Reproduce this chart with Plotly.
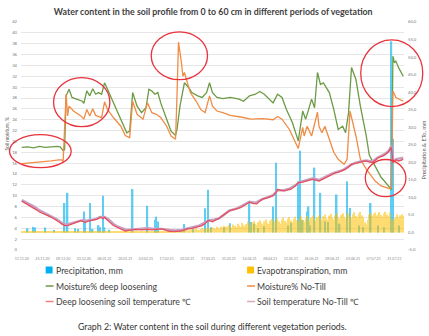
import pandas as pd
import plotly.graph_objects as go

# ---------------- data ----------------
DAY0 = "2020-11-11"          # first day of the observation period (day 0)
LAST_DAY = 258               # last day index (27.07.21)

tick_dates = ["2020-11-11", "2020-11-25", "2020-12-09", "2020-12-23", "2021-01-06",
              "2021-01-20", "2021-02-03", "2021-02-17", "2021-03-03", "2021-03-17",
              "2021-03-31", "2021-04-14", "2021-04-28", "2021-05-12", "2021-05-26",
              "2021-06-09", "2021-06-23", "2021-07-07", "2021-07-21"]

left_ticks = list(range(0, 43, 2))
right_ticks = [-5, 0, 5, 10, 15, 20, 25, 30, 35, 40, 45, 50, 55, 60]
right_tick_text = ["-5,0", "0,0", "5,0", "10,0", "15,0", "20,0", "25,0", "30,0",
                   "35,0", "40,0", "45,0", "50,0", "55,0", "60,0"]

# precipitation, mm (only rainy days)
precip_day = [4, 8, 9, 16, 22, 29, 31, 36, 38, 42, 43, 46, 48, 52, 53, 55, 56, 59, 75, 85,
              90, 91, 92, 110, 116, 124, 126, 128, 137, 141, 154, 155, 157, 160, 164, 170,
              172, 180, 182, 187, 188, 190, 193, 194, 195, 198, 202, 205, 207, 213, 215,
              220, 222, 228, 231, 236, 241, 245, 250, 251, 255]
precip_mm = [1.2, 1.6, 1.4, 1.4, 0.7, 8.4, 11.3, 1.2, 1.0, 6.0, 3.6, 8.4, 1.0, 2.1, 1.5,
             10.5, 1.5, 0.8, 12.4, 7.6, 3.6, 4.5, 3.1, 2.4, 1.0, 6.9, 12.2, 1.5, 1.5, 2.6,
             8.8, 3.0, 2.5, 1.2, 1.8, 7.4, 19.9, 2.0, 2.8, 14.6, 23.3, 3.5, 6.0, 7.4, 2.0,
             18.5, 11.3, 3.2, 3.0, 10.8, 2.5, 14.6, 7.0, 2.0, 1.5, 8.4, 2.0, 1.5, 54.5,
             26.7, 2.0]

# evapotranspiration, mm (daily, 11.11.20 - 27.07.21)
et_nov = [0.4, 0.3, 0.5, 0.3, 0.4, 0.2, 0.4, 0.3, 0.5, 0.3, 0.2, 0.4, 0.3, 0.3, 0.5, 0.2,
          0.3, 0.4, 0.2, 0.3]
et_dec = [0.3, 0.2, 0.4, 0.3, 0.2, 0.3, 0.2, 0.3, 0.4, 0.2, 0.3, 0.2, 0.2, 0.3, 0.4, 0.2,
          0.3, 0.2, 0.3, 0.2, 0.2, 0.3, 0.2, 0.4, 0.3, 0.2, 0.3, 0.2, 0.2, 0.3, 0.2]
et_jan = [0.2, 0.3, 0.2, 0.2, 0.3, 0.2, 0.2, 0.3, 0.2, 0.2, 0.3, 0.2, 0.3, 0.2, 0.2, 0.3,
          0.2, 0.2, 0.3, 0.3, 0.2, 0.2, 0.3, 0.2, 0.3, 0.2, 0.3, 0.2, 0.3, 0.3, 0.2]
et_feb = [0.3, 0.2, 0.3, 0.4, 0.2, 0.3, 0.3, 0.2, 0.4, 0.3, 0.3, 0.4, 0.2, 0.4, 0.3, 0.5,
          0.4, 0.3, 0.5, 0.4, 0.6, 0.4, 0.5, 0.7, 0.5, 0.6, 0.4, 0.7]
et_mar = [0.6, 0.9, 0.7, 0.5, 0.8, 1.0, 0.7, 0.9, 1.2, 0.8, 0.6, 1.0, 1.3, 0.9, 0.8, 1.1,
          1.4, 1.0, 0.9, 1.5, 1.2, 1.0, 1.6, 1.3, 1.1, 1.7, 1.4, 1.9, 1.5, 1.8, 2.1]
et_apr = [1.7, 1.4, 2.3, 1.9, 1.5, 2.5, 2.0, 1.6, 2.7, 2.1, 1.8, 2.4, 3.1, 2.3, 1.9, 2.9,
          3.3, 2.5, 2.1, 3.0, 3.5, 2.7, 2.3, 3.2, 3.7, 2.8, 2.4, 3.4, 3.9, 3.1]
et_may = [3.4, 2.7, 4.0, 3.1, 2.5, 3.7, 4.2, 3.3, 2.8, 3.9, 4.4, 3.4, 2.9, 3.8, 4.5, 3.5,
          3.0, 4.1, 4.6, 3.6, 3.1, 4.0, 4.7, 3.9, 3.2, 4.3, 4.8, 3.8, 3.3, 4.4, 4.9]
et_jun = [4.1, 3.5, 4.6, 5.1, 4.0, 3.7, 4.8, 5.3, 4.3, 3.8, 4.9, 5.4, 4.4, 3.9, 5.0, 5.5,
          4.5, 4.0, 5.1, 5.6, 4.6, 4.1, 5.2, 5.8, 4.7, 4.2, 5.3, 5.9, 4.8, 4.3]
et_jul = [2.9, 2.3, 3.6, 5.1, 5.5, 4.7, 5.3, 5.7, 4.8, 5.2, 5.8, 5.0, 4.5, 5.4, 5.9, 5.1,
          4.6, 5.6, 3.6, 3.4, 4.0, 4.4, 5.1, 4.2, 4.9, 5.2, 4.7]

# soil moisture, % (deep loosening)
deep_day = [0, 4, 8, 12, 16, 20, 24, 26, 28, 29, 30, 32, 34, 37, 41, 42, 44, 46, 48, 50,
            52, 54, 56, 58, 62, 68, 71, 73, 75, 78, 81, 84, 86, 88, 90, 92, 94, 98, 101,
            104, 105, 107, 110, 113, 115, 119, 122, 125, 127, 129, 132, 136, 141, 147, 150,
            154, 158, 161, 164, 170, 173, 176, 179, 183, 187, 190, 192, 194, 196, 198, 200,
            202, 204, 208, 211, 214, 217, 219, 221, 223, 226, 229, 233, 235, 239, 243, 249,
            250, 251, 252, 253, 255, 258]
deep_moist = [18.9, 19.0, 18.8, 19.1, 18.9, 19.0, 19.1, 19.0, 18.3, 18.5, 28.4, 29.6, 28.1,
              27.8, 27.4, 27.0, 29.3, 28.4, 29.7, 28.7, 29.0, 28.7, 30.8, 29.6, 27.1, 23.5,
              21.6, 21.9, 29.0, 26.5, 25.3, 26.2, 29.6, 29.3, 28.7, 29.0, 27.1, 24.1, 21.9,
              21.1, 22.2, 26.5, 30.8, 29.9, 29.0, 28.4, 28.1, 29.0, 30.8, 29.0, 28.1, 27.9,
              28.1, 27.8, 27.4, 28.4, 28.7, 29.2, 28.7, 27.1, 28.7, 28.1, 25.9, 23.5, 20.1,
              25.6, 24.1, 25.9, 27.8, 26.2, 32.7, 30.5, 30.8, 29.0, 25.9, 22.2, 22.8, 21.6,
              25.3, 33.6, 31.4, 26.5, 21.0, 17.5, 15.5, 13.4, 11.5, 11.1, 35.7, 34.5, 34.8,
              33.5, 32.0]

# soil moisture, % (No-Till)
nt_day = [0, 5, 10, 15, 20, 25, 27, 28, 30, 31, 32, 35, 40, 42, 44, 46, 48, 50, 54, 56, 58,
          62, 67, 70, 73, 75, 78, 82, 85, 88, 91, 94, 98, 101, 104, 105, 106, 108, 109, 110,
          112, 114, 118, 121, 124, 127, 129, 132, 136, 141, 148, 155, 163, 170, 173, 176,
          181, 187, 190, 191, 193, 196, 200, 201, 203, 205, 208, 211, 214, 218, 220, 222,
          226, 229, 233, 239, 243, 249, 250, 251, 253, 258]
nt_moist = [15.9, 16.0, 16.2, 16.3, 16.4, 16.6, 16.6, 16.3, 28.7, 24.7, 26.5, 25.6, 24.7,
            24.1, 25.9, 24.7, 26.0, 24.8, 24.4, 27.3, 25.9, 24.4, 22.8, 21.1, 20.7, 27.4,
            25.0, 24.1, 27.1, 25.3, 25.0, 24.4, 22.8, 21.0, 20.4, 28.4, 38.3, 34.5, 32.0,
            32.7, 30.8, 29.0, 27.4, 25.9, 25.3, 28.4, 26.5, 25.6, 25.3, 24.8, 24.5, 24.1,
            24.2, 24.0, 24.6, 24.1, 22.2, 18.7, 22.6, 21.0, 22.8, 21.0, 25.4, 22.8, 21.6,
            22.8, 20.4, 18.0, 16.7, 15.8, 16.7, 25.6, 21.0, 16.7, 14.9, 12.7, 11.8, 11.3,
            11.5, 29.3, 28.1, 27.4]

# soil temperature, deg C (deep loosening)
dl_temp_day = [0, 2, 4, 6, 8, 10, 12, 14, 16, 18, 21, 23, 25, 27, 29, 31, 33, 36, 38, 40,
               42, 43, 45, 47, 49, 51, 53, 55, 56, 58, 60, 62, 65, 67, 70, 72, 74, 77, 81,
               84, 88, 91, 94, 97, 99, 102, 105, 108, 110, 112, 115, 118, 120, 122, 124,
               126, 128, 129, 131, 132, 134, 135, 137, 139, 141, 144, 148, 151, 154, 156,
               159, 161, 163, 166, 170, 172, 173, 175, 178, 180, 182, 185, 187, 190, 192,
               195, 197, 199, 201, 204, 206, 208, 210, 212, 214, 217, 219, 221, 223, 225,
               228, 230, 232, 234, 237, 239, 241, 244, 246, 248, 250, 251, 253, 255, 258]
dl_temp = [9.0, 8.7, 8.4, 8.0, 7.7, 7.4, 7.0, 6.8, 6.5, 6.3, 5.9, 5.6, 5.2, 4.8, 4.5, 4.5,
           4.7, 4.9, 5.2, 5.4, 5.2, 5.1, 5.3, 5.4, 5.5, 5.7, 6.0, 5.8, 6.0, 5.4, 5.0, 4.5,
           4.1, 3.9, 3.5, 3.6, 3.7, 3.8, 3.7, 3.8, 3.7, 3.8, 3.9, 3.7, 3.5, 3.4, 3.4, 3.5,
           3.7, 3.9, 4.0, 4.2, 4.3, 4.5, 4.9, 5.4, 5.3, 5.2, 5.5, 5.6, 5.9, 6.2, 6.6, 6.9,
           7.3, 7.5, 7.8, 8.3, 8.8, 8.6, 8.5, 9.0, 9.4, 9.6, 10.0, 10.6, 11.2, 11.0, 10.9,
           11.1, 11.2, 11.8, 12.4, 12.5, 12.7, 12.9, 13.0, 12.8, 12.7, 13.1, 13.4, 13.7,
           14.0, 14.2, 14.3, 14.6, 14.9, 15.3, 15.8, 15.9, 16.1, 16.3, 16.4, 16.3, 16.1,
           16.5, 17.0, 17.3, 17.6, 18.1, 18.9, 16.1, 16.6, 16.4, 16.7]

# soil temperature, deg C (No-Till)
nt_temp_day = [0, 3, 6, 9, 12, 15, 18, 21, 24, 27, 29, 32, 35, 38, 41, 44, 47, 50, 53, 56,
               59, 62, 65, 68, 71, 75, 80, 85, 90, 95, 100, 104, 108, 112, 116, 120, 124,
               127, 130, 133, 136, 140, 145, 150, 154, 158, 162, 166, 170, 173, 177, 181,
               185, 189, 193, 197, 201, 205, 209, 213, 217, 221, 225, 229, 233, 237, 241,
               245, 248, 250, 251, 254, 258]
nt_temp = [9.2, 8.8, 8.3, 7.9, 7.3, 6.9, 6.5, 6.1, 5.6, 5.0, 4.7, 4.8, 5.0, 5.3, 5.5, 5.4,
           5.5, 5.7, 6.1, 6.1, 5.6, 4.8, 4.3, 4.0, 3.7, 3.8, 3.9, 4.0, 3.9, 3.9, 3.7, 3.6,
           3.7, 4.0, 4.2, 4.5, 5.1, 5.5, 5.6, 5.8, 6.3, 7.2, 7.6, 8.4, 8.9, 8.7, 9.3, 9.7,
           10.1, 11.0, 11.0, 11.3, 12.0, 12.6, 12.9, 13.2, 12.9, 13.5, 14.0, 14.4, 14.7,
           15.4, 16.0, 16.3, 16.5, 16.3, 17.1, 17.6, 18.2, 19.2, 16.5, 16.8, 17.0]

# ---------------- helpers ----------------
start = pd.Timestamp(DAY0)


def to_dates(days):
    return [start + pd.Timedelta(days=int(d)) for d in days]


evapotranspiration = et_nov + et_dec + et_jan + et_feb + et_mar + et_apr + et_may + et_jun + et_jul
et_dates = to_dates(range(len(evapotranspiration)))
DAY_MS = 86400000

FONT = "Lato, 'Open Sans', sans-serif"
TXT = "#404040"

C_PRECIP = "#00B0F0"
C_ET = "#FFC000"
C_DEEP = "#6b9b45"
C_NT = "#f08c45"
C_TDL = "#e4505e"
C_TNT = "#c9a0c4"

fig = go.Figure()

fig.add_trace(go.Bar(
    x=to_dates(precip_day), y=precip_mm, name="Precipitation, mm",
    marker=dict(color=C_PRECIP, line=dict(width=0)), opacity=0.62,
    width=DAY_MS * 1.0, yaxis="y"))
fig.add_trace(go.Bar(
    x=et_dates, y=evapotranspiration, name="Evapotranspiration, mm",
    marker=dict(color=C_ET, line=dict(width=0)), opacity=0.55,
    width=DAY_MS * 0.85, yaxis="y"))

fig.add_trace(go.Scatter(
    x=to_dates(deep_day), y=deep_moist, name="Moisture% deep loosening",
    mode="lines", line=dict(color=C_DEEP, width=1.3), yaxis="y2"))
fig.add_trace(go.Scatter(
    x=to_dates(nt_day), y=nt_moist, name="Moisture% No-Till",
    mode="lines", line=dict(color=C_NT, width=1.3), yaxis="y2"))
fig.add_trace(go.Scatter(
    x=to_dates(nt_temp_day), y=nt_temp, name="Soil temperature No-Till \u2103",
    mode="lines", line=dict(color=C_TNT, width=2.4), yaxis="y2"))
fig.add_trace(go.Scatter(
    x=to_dates(dl_temp_day), y=dl_temp, name="Deep loosening soil temperature \u2103",
    mode="lines", line=dict(color=C_TDL, width=1.3), yaxis="y2"))

# red ellipses highlighting periods (paper coordinates)
ellipses = [(-0.030, 0.361, 0.131, 0.506),
            (0.085, 0.541, 0.232, 0.756),
            (0.340, 0.747, 0.487, 0.957),
            (0.887, 0.629, 1.049, 0.922),
            (0.899, 0.234, 1.005, 0.397)]
for x0, y0, x1, y1 in ellipses:
    fig.add_shape(type="circle", xref="paper", yref="paper", x0=x0, y0=y0, x1=x1, y1=y1,
                  line=dict(color="#e8323c", width=1.3), fillcolor="rgba(0,0,0,0)",
                  layer="above")

# legend drawn below the plot in two columns (label, colour, symbol kind)
legend_items = [("Precipitation, mm", C_PRECIP, "box"),
                ("Evapotranspiration, mm", C_ET, "box"),
                ("Moisture% deep loosening", C_DEEP, "line"),
                ("Moisture% No-Till", C_NT, "line"),
                ("Deep loosening soil temperature \u2103", "#f08080", "line"),
                ("Soil temperature No-Till \u2103", "#d8a8c0", "line")]
PLOT_L, PLOT_W, PLOT_B, PLOT_H = 18, 388, 250, 228
col_x = [43, 247]
row_y = [270, 286, 301.5]


def px(x):
    return (x - PLOT_L) / PLOT_W


def py(y):
    return (PLOT_B - y) / PLOT_H


for i, (label, color, kind) in enumerate(legend_items):
    cx = col_x[i % 2]
    cy = row_y[i // 2]
    if kind == "box":
        fig.add_shape(type="rect", xref="paper", yref="paper",
                      x0=px(cx), x1=px(cx + 7), y0=py(cy + 3.5), y1=py(cy - 3.5),
                      fillcolor=color, line=dict(width=0), layer="above")
    else:
        fig.add_shape(type="line", xref="paper", yref="paper",
                      x0=px(cx), x1=px(cx + 8), y0=py(cy), y1=py(cy),
                      line=dict(color=color, width=1.5), layer="above")
    fig.add_annotation(text=label, xref="paper", yref="paper", x=px(cx + 8.5), y=py(cy),
                       xanchor="left", yanchor="middle", showarrow=False,
                       font=dict(size=8.7, color=TXT, family=FONT))

x_start = (start - pd.Timedelta(hours=12))
x_end = (start + pd.Timedelta(days=LAST_DAY) + pd.Timedelta(hours=12))

fig.update_layout(
    width=429, height=336,
    margin=dict(l=18, r=23, t=22, b=86),
    paper_bgcolor="white", plot_bgcolor="white",
    barmode="overlay",
    showlegend=False,
    font=dict(family=FONT, color=TXT),
    title=dict(text="<b>Water content in the soil profile from 0 to 60 cm in different periods of vegetation</b>",
               x=0.497, xanchor="center", y=1 - 12 / 336, yanchor="middle",
               font=dict(size=8.8, color="#404040", family=FONT)),
    xaxis=dict(type="date", range=[x_start, x_end], tickvals=tick_dates,
               tickformat="%d.%m.%y", tickangle=0, showgrid=False, zeroline=False,
               showline=False, ticks="", ticklabelstandoff=5,
               tickfont=dict(size=3.6, color="#8a8a8a")),
    yaxis=dict(side="right", range=[-5, 60], tickvals=right_ticks, ticktext=right_tick_text,
               showgrid=False, zeroline=False, showline=False, ticks="",
               ticklabelstandoff=3, tickfont=dict(size=4.2, color="#7a7a7a")),
    yaxis2=dict(side="left", overlaying="y", range=[0, 42], tickvals=left_ticks,
                showgrid=True, gridcolor="#e6e6e6", gridwidth=1, zeroline=False,
                showline=False, ticks="", ticklabelstandoff=3,
                tickfont=dict(size=4.2, color="#7a7a7a")),
)

fig.add_annotation(text="Soil moisture, %", xref="paper", yref="paper", x=-0.037, y=0.51,
                   textangle=-90, showarrow=False, font=dict(size=4.8, color="#595959"),
                   xanchor="center", yanchor="middle")
fig.add_annotation(text="Precipitation & ETo, mm", xref="paper", yref="paper", x=1.052, y=0.44,
                   textangle=-90, showarrow=False, font=dict(size=5.6, color="#595959"),
                   xanchor="center", yanchor="middle")
fig.add_annotation(text="Graph 2: Water content in the soil during different vegetation periods.",
                   xref="paper", yref="paper", x=0.5, y=py(326),
                   xanchor="center", yanchor="middle", showarrow=False,
                   font=dict(size=8.8, color="#333333", family=FONT))

fig.write_html("out.html")
